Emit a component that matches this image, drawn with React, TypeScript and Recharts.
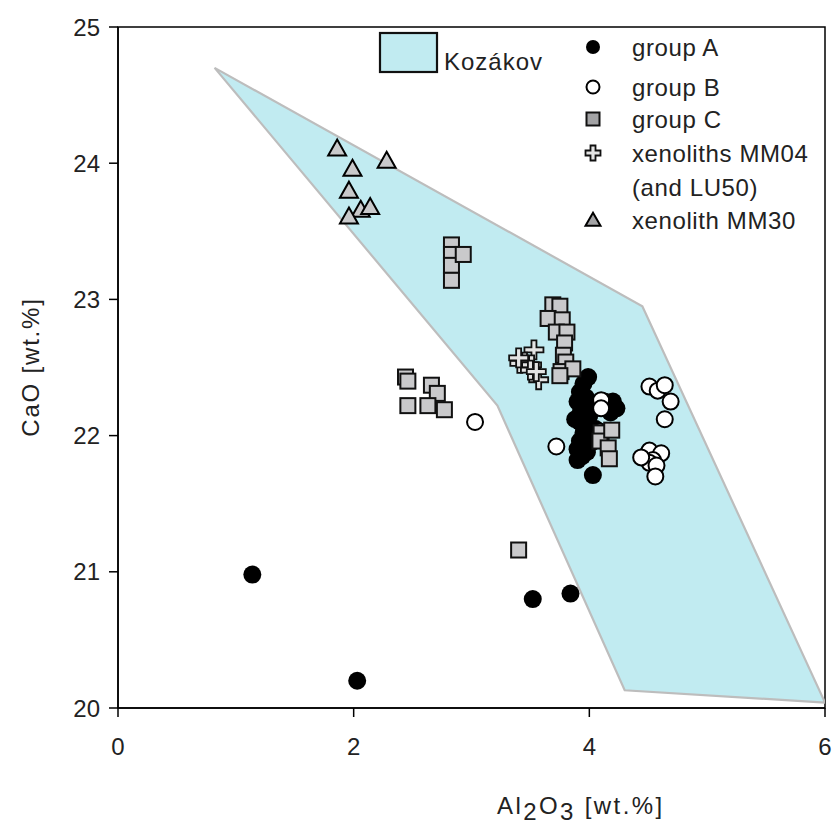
import React from 'react';
import { ScatterChart, Scatter, XAxis, YAxis, ReferenceArea, Legend } from 'recharts';

const FONT = '"Liberation Sans", Arial, Helvetica, sans-serif';

// Kozákov field polygon (Al2O3, CaO)
const kozakovX = [0.82, 4.45, 6.0, 4.3, 3.22, 0.82];
const kozakovY = [24.7, 22.95, 20.04, 20.13, 22.22, 24.7];

// group A (filled circles)
const groupAX = [1.14, 2.03, 3.52, 3.84, 3.99, 3.95, 3.92, 3.9, 3.97, 3.93, 3.88, 3.92, 4.0, 3.95, 3.92, 3.9, 3.94, 3.9, 3.98, 4.02, 4.05, 4.03, 4.13, 4.2, 4.23, 4.18, 4.03];
const groupAY = [20.98, 20.2, 20.8, 20.84, 22.43, 22.38, 22.32, 22.25, 22.28, 22.18, 22.12, 22.1, 22.15, 22.02, 21.96, 21.9, 21.85, 21.82, 21.88, 21.95, 22.05, 22.22, 22.25, 22.25, 22.2, 22.17, 21.71];

// group B (open circles)
const groupBX = [3.03, 3.72, 4.1, 4.1, 4.09, 4.51, 4.58, 4.64, 4.69, 4.64, 4.49, 4.51, 4.61, 4.54, 4.51, 4.57, 4.56, 4.44];
const groupBY = [22.1, 21.92, 22.26, 22.2, 22.03, 22.36, 22.33, 22.37, 22.25, 22.12, 21.86, 21.89, 21.87, 21.82, 21.8, 21.78, 21.7, 21.84];

// group C (grey squares)
const groupCX = [2.83, 2.83, 2.83, 2.83, 2.93, 2.44, 2.46, 2.46, 2.66, 2.71, 2.63, 2.77, 3.4, 3.69, 3.75, 3.65, 3.77, 3.72, 3.81, 3.79, 3.78, 3.8, 3.76, 3.86, 3.75, 4.1, 4.09, 4.19, 4.16, 4.17];
const groupCY = [23.4, 23.33, 23.25, 23.14, 23.33, 22.43, 22.4, 22.22, 22.37, 22.31, 22.22, 22.19, 21.16, 22.96, 22.95, 22.86, 22.85, 22.76, 22.76, 22.68, 22.59, 22.54, 22.47, 22.49, 22.44, 22.02, 21.96, 22.04, 21.91, 21.83];

// xenoliths MM04 (and LU50) (crosses)
const mm04X = [3.53, 3.45, 3.41, 3.51, 3.57, 3.5, 3.4, 3.55];
const mm04Y = [22.63, 22.54, 22.53, 22.52, 22.41, 22.48, 22.57, 22.47];

// xenolith MM30 (triangles)
const mm30X = [1.86, 2.28, 1.99, 1.96, 2.06, 2.14, 1.96];
const mm30Y = [24.11, 24.02, 23.96, 23.8, 23.66, 23.68, 23.61];

const xTicks = [0, 2, 4, 6];
const yTicks = [20, 21, 22, 23, 24, 25];

const fieldLabel = 'Kozákov';
const legendLabels = ['group A', 'group B', 'group C', 'xenoliths MM04', '(and LU50)', 'xenolith MM30'];

const zip = (xs: number[], ys: number[]) => xs.map((x, i) => ({ x, y: ys[i] }));

const kozakov = zip(kozakovX, kozakovY);
const groupA = zip(groupAX, groupAY);
const groupB = zip(groupBX, groupBY);
const groupC = zip(groupCX, groupCY);
const mm04 = zip(mm04X, mm04Y);
const mm30 = zip(mm30X, mm30Y);

const GREY = '#c9c9cb';
const FIELD = '#c1ebf1';

const Nothing = () => <g />;

const FilledCircle = (p: any) => <circle cx={p.cx} cy={p.cy} r={9} fill="#000" />;
const OpenCircle = (p: any) => (
  <circle cx={p.cx} cy={p.cy} r={8} fill="#fff" stroke="#000" strokeWidth={2} />
);
const Square = (p: any) => (
  <rect x={p.cx - 7.5} y={p.cy - 7.5} width={15} height={15} fill={GREY} stroke="#111" strokeWidth={2} />
);
const crossPath = (cx: number, cy: number, L: number, w: number) => {
  const a = L / 2;
  const b = w / 2;
  return `M${cx - b},${cy - a}H${cx + b}V${cy - b}H${cx + a}V${cy + b}H${cx + b}V${cy + a}H${cx - b}V${cy + b}H${cx - a}V${cy - b}H${cx - b}Z`;
};
const Cross = (p: any) => (
  <path d={crossPath(p.cx, p.cy, 19, 5)} fill="#e4e4e4" stroke="#111" strokeWidth={1.8} />
);
const triPath = (cx: number, cy: number, w: number, h: number) =>
  `M${cx},${cy - h * 0.55}L${cx + w / 2},${cy + h * 0.45}L${cx - w / 2},${cy + h * 0.45}Z`;
const Triangle = (p: any) => (
  <path d={triPath(p.cx, p.cy, 18, 16)} fill={GREY} stroke="#000" strokeWidth={2} strokeLinejoin="miter" />
);

const FieldPolygon = (p: any) => {
  const pts = (p.points || []).map((q: any) => `${q.x},${q.y}`).join(' ');
  return <polygon points={pts} fill={FIELD} stroke="#bdbdbd" strokeWidth={2.2} strokeLinejoin="miter" />;
};

const textStyle = { fontFamily: FONT, fontSize: 24, fill: '#222', letterSpacing: 0.6 };

const LegendContent = () => {
  const sx = 593;
  const tx = 632;
  const ys = [47, 87, 119, 153, 187, 220];
  return (
    <svg width={838} height={240} style={{ display: 'block' }}>
      <rect x={380} y={33} width={57} height={39} fill={FIELD} stroke="#111" strokeWidth={2.2} />
      <text x={444} y={61} dominantBaseline="central" style={{ ...textStyle, letterSpacing: 1 }}>{fieldLabel}</text>
      <circle cx={sx} cy={ys[0]} r={7} fill="#000" />
      <circle cx={sx} cy={ys[1]} r={6.5} fill="#fff" stroke="#000" strokeWidth={2} />
      <rect x={sx - 6.5} y={ys[2] - 6.5} width={13} height={13} fill="#a3a3a5" stroke="#111" strokeWidth={2} />
      <path d={crossPath(sx, ys[3], 15, 5)} fill="#e4e4e4" stroke="#111" strokeWidth={1.8} />
      <path d={triPath(sx, ys[5], 15, 13)} fill="#a3a3a5" stroke="#000" strokeWidth={2} />
      {legendLabels.map((l, i) => (
        <text key={l} x={tx} y={ys[i]} dominantBaseline="central" style={textStyle}>{l}</text>
      ))}
    </svg>
  );
};

const YTitle = () => (
  <text
    x={30}
    y={367}
    transform="rotate(-90, 30, 367)"
    textAnchor="middle"
    dominantBaseline="central"
    style={{ ...textStyle, letterSpacing: 1.8 }}
  >
    CaO [wt.%]
  </text>
);

const XTitle = () => (
  <text x={497} y={814} style={{ ...textStyle, letterSpacing: 2.4 }}>
    Al<tspan dy={6}>2</tspan>
    <tspan dy={-6}>O</tspan>
    <tspan dy={6}>3</tspan>
    <tspan dy={-6}> [wt.%]</tspan>
  </text>
);

export default function App() {
  return (
    <div style={{ position: 'absolute', left: 0, top: 0, width: 838, height: 829, background: '#fff' }}>
      <ScatterChart width={838} height={829} margin={{ top: 27, right: 13, bottom: 61, left: 0 }}>
        <XAxis
          type="number"
          dataKey="x"
          domain={[0, 6]}
          ticks={xTicks}
          allowDataOverflow
          height={60}
          tickSize={9}
          tickMargin={21}
          stroke="#000"
          strokeWidth={1.5}
          tick={{ fontFamily: FONT, fontSize: 24, fill: '#222' }}
          label={{ content: () => <XTitle /> }}
        />
        <YAxis
          type="number"
          dataKey="y"
          domain={[20, 25]}
          ticks={yTicks}
          allowDataOverflow
          width={118}
          tickSize={9}
          tickMargin={9}
          stroke="#000"
          strokeWidth={1.5}
          tick={{ fontFamily: FONT, fontSize: 24, fill: '#222' }}
          label={{ content: () => <YTitle /> }}
        />
        <Scatter
          data={kozakov}
          shape={Nothing}
          line={FieldPolygon}
          lineType="joint"
          isAnimationActive={false}
          legendType="none"
        />
        <Scatter name="group A" data={groupA} shape={FilledCircle} isAnimationActive={false} />
        <Scatter name="group B" data={groupB} shape={OpenCircle} isAnimationActive={false} />
        <Scatter name="group C" data={groupC} shape={Square} isAnimationActive={false} />
        <Scatter name="xenoliths MM04" data={mm04} shape={Cross} isAnimationActive={false} />
        <Scatter name="xenolith MM30" data={mm30} shape={Triangle} isAnimationActive={false} />
        <ReferenceArea x1={0} x2={6} y1={20} y2={25} fill="none" stroke="#000" strokeWidth={1.5} fillOpacity={0} />
        <Legend
          layout="horizontal"
          verticalAlign="middle"
          align="center"
          content={<LegendContent />}
          wrapperStyle={{ position: 'absolute', left: 0, top: 0, width: 838, height: 240, margin: 0, pointerEvents: 'none' }}
        />
      </ScatterChart>
    </div>
  );
}
